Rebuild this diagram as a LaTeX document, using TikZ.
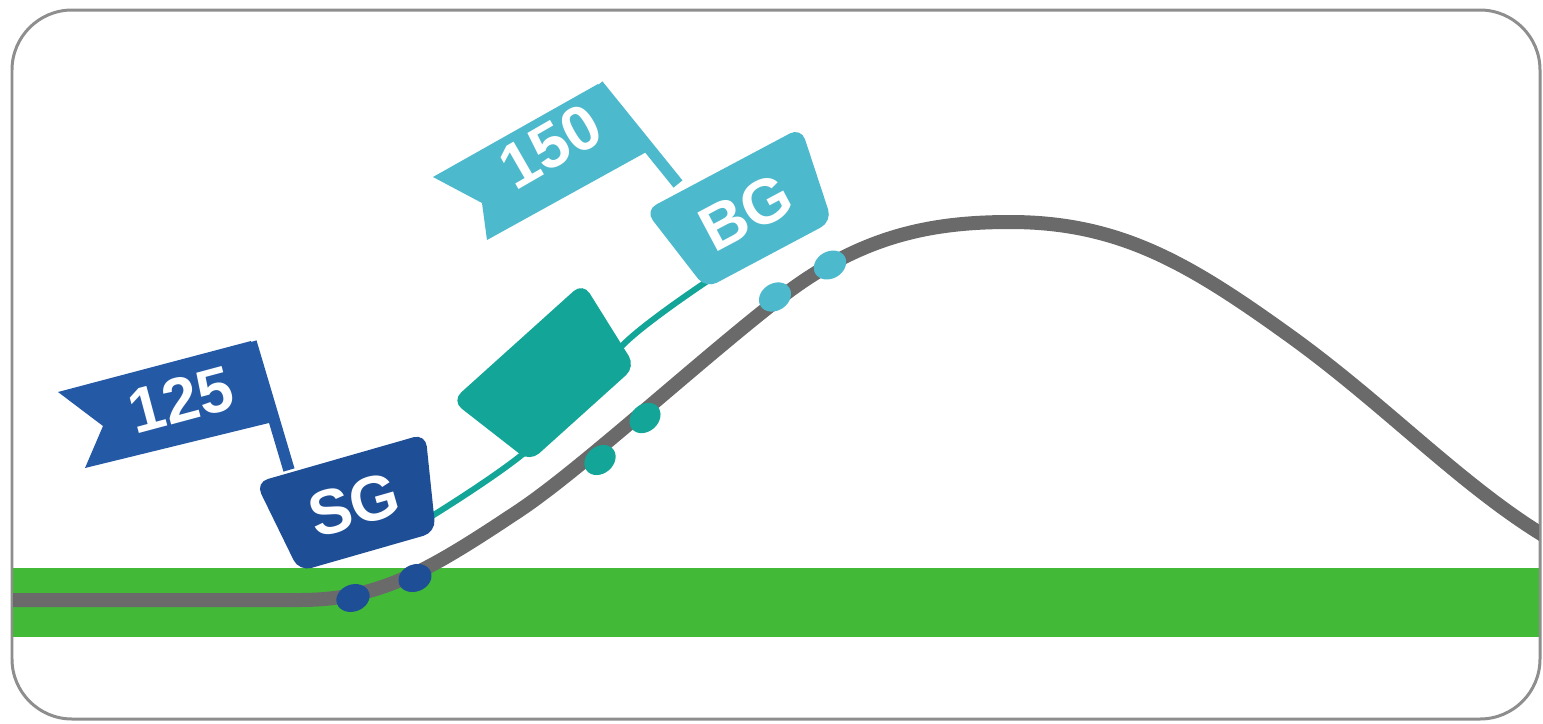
\documentclass[tikz,border=0pt]{standalone}
\usepackage{fontspec}
\setmainfont{Liberation Sans}
\usetikzlibrary{shapes.geometric}
\definecolor{framegray}{RGB}{142,142,142}
\definecolor{trackgray}{RGB}{106,106,106}
\definecolor{grassgreen}{RGB}{66,186,56}
\definecolor{sgblue}{RGB}{30,78,150}
\definecolor{flagblue}{RGB}{36,89,166}
\definecolor{midteal}{RGB}{19,166,152}
\definecolor{bgcyan}{RGB}{77,185,205}

\begin{document}
\begin{tikzpicture}[x=0.02cm, y=-0.02cm,
  every node/.style={font=\bfseries\fontsize{36}{40}\selectfont, text=white},
  cart/.style={trapezium, shape border rotate=180, trapezium angle=77,
    trapezium stretches=true, minimum width=3.55cm, minimum height=1.95cm,
    rounded corners=0.25cm, inner sep=2pt},
  wheel/.style={ellipse, minimum width=0.68cm, minimum height=0.54cm, inner sep=0pt},
  pole/.style={line width=0.23cm},
  track/.style={draw=trackgray, line width=0.28cm},
  cable/.style={draw=midteal, line width=0.12cm}
]
\useasboundingbox (0,0) rectangle (1543,724);

% frame and ground
\draw[framegray, line width=0.06cm, rounded corners=1.2cm] (12,10) rectangle (1540,719);
\fill[grassgreen] (13,568) rectangle (1539,637);

% track
\begin{scope}
\clip (13,10) rectangle (1539,719);
\draw[track] (0,600) -- (300,600) .. controls (380,600) and (430,570) .. (520,510)
  .. controls (580,470) and (700,360) .. (780,298)
  .. controls (860,236) and (930,222) .. (1010,222)
  .. controls (1120,222) and (1190,264) .. (1290,336)
  .. controls (1390,408) and (1470,495) .. (1560,545);
\end{scope}

% cable between the carts
\draw[cable] plot[smooth] coordinates {(432,516) (530,448) (627,341) (712,278)};

% flags
\fill[flagblue] (58,392) -- (251,341) -- (273,422) -- (85,468) -- (103,426) -- cycle;
\draw[pole, flagblue] (251,342) -- (289,470);
\node[rotate=15] (n125) at (181,400) {125};

\fill[bgcyan] (433,177) -- (598,84) -- (650,150) -- (487,240) -- (482,203) -- cycle;
\draw[pole, bgcyan] (598,85) -- (678,184);
\node[rotate=30] (n150) at (550,146) {150};

% carts
\node[cart, fill=sgblue, rotate=16] (sg) at (354,505) {SG};
\node[cart, fill=midteal, rotate=42] (mid) at (550,378) {\phantom{SG}};
\node[cart, fill=bgcyan, rotate=28] (bg) at (746,212) {BG};

% wheels
\node[wheel, fill=sgblue, rotate=20] (sgw1) at (353,598) {};
\node[wheel, fill=sgblue, rotate=22] (sgw2) at (415,578) {};
\node[wheel, fill=midteal, rotate=40] (midw1) at (600,460) {};
\node[wheel, fill=midteal, rotate=42] (midw2) at (645,418) {};
\node[wheel, fill=bgcyan, rotate=33] (bgw1) at (775,297) {};
\node[wheel, fill=bgcyan, rotate=30] (bgw2) at (830,265) {};
\end{tikzpicture}
\end{document}
